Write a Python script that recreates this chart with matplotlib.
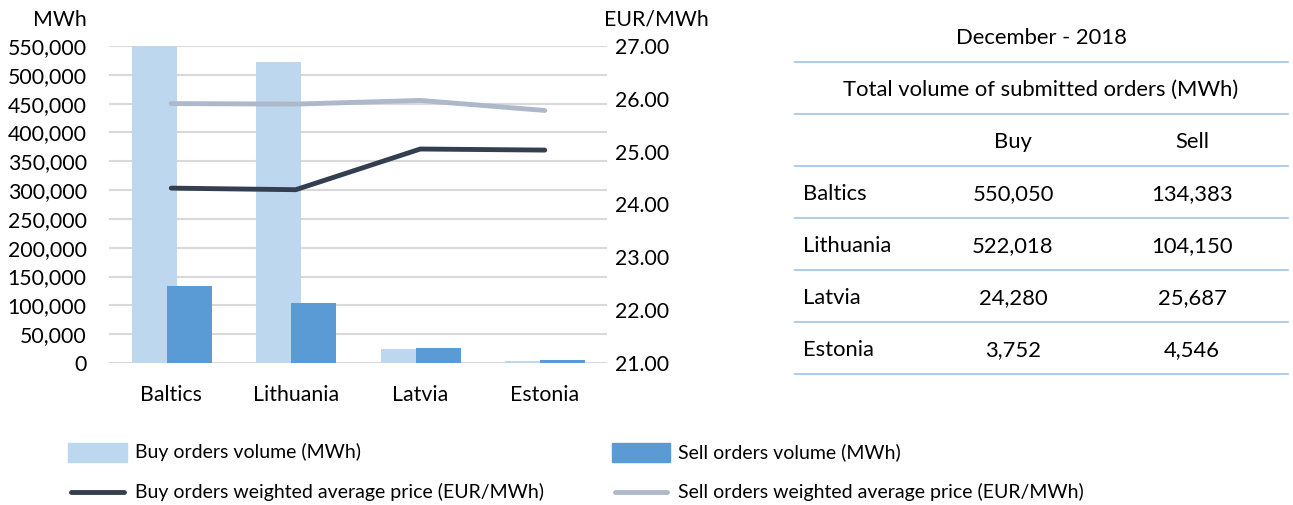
import matplotlib
matplotlib.use("Agg")
import matplotlib.pyplot as plt
from matplotlib.patches import Rectangle
from matplotlib.lines import Line2D
from matplotlib.ticker import FuncFormatter
import numpy as np

plt.rcParams['font.family'] = ['Lato', 'DejaVu Sans']

categories = ["Baltics", "Lithuania", "Latvia", "Estonia"]
buy_volume = [550050, 522018, 24280, 3752]
sell_volume = [134383, 104150, 25687, 4546]
buy_price = [24.31, 24.28, 25.05, 25.03]
sell_price = [25.91, 25.90, 25.97, 25.78]
table_title = "December - 2018"
table_subtitle = "Total volume of submitted orders (MWh)"
table_cols = ["Buy", "Sell"]

c_buy_bar = "#BDD7EE"
c_sell_bar = "#5B9BD5"
c_buy_line = "#333F50"
c_sell_line = "#ADB9CA"
c_grid = "#D9D9D9"
c_table = "#9DC3E6"
txt = "#000000"
fs = 15.3
fs_tab = 15.8
fs_leg = 14

W, H = 1293, 505
fig = plt.figure(figsize=(W / 100, H / 100), dpi=100)

def fx(px):
    return px / W

def fy(py):
    return 1 - py / H

ax = fig.add_axes([fx(109), fy(363), fx(607) - fx(109), fy(46) - fy(363)])
x = np.arange(len(categories))
bw = 0.36
ax.bar(x - 0.137, buy_volume, width=bw, color=c_buy_bar, zorder=2)
ax.bar(x + 0.145, sell_volume, width=bw, color=c_sell_bar, zorder=3)
ax.set_xlim(-0.5, len(categories) - 0.5)
ax.set_ylim(0, 550000)
ax.set_yticks(np.arange(0, 550001, 50000))
ax.yaxis.set_major_formatter(FuncFormatter(lambda v, p: f"{int(v):,}"))
ax.set_xticks(x)
ax.set_xticklabels(categories)
ax.grid(axis='y', color=c_grid, linewidth=1.5, zorder=0)
ax.set_axisbelow(True)
for s in ax.spines.values():
    s.set_visible(False)
ax.tick_params(axis='y', length=0, pad=16, labelsize=fs)
ax.tick_params(axis='x', length=0, pad=16, labelsize=fs)

ax2 = ax.twinx()
ax2.plot(x, sell_price, color=c_sell_line, linewidth=3.5, solid_capstyle='round', zorder=4)
ax2.plot(x, buy_price, color=c_buy_line, linewidth=3.5, solid_capstyle='round', zorder=5)
ax2.set_ylim(21, 27)
ax2.set_yticks(np.arange(21, 27.01, 1))
ax2.yaxis.set_major_formatter(FuncFormatter(lambda v, p: f"{v:.2f}"))
ax2.tick_params(axis='y', length=0, pad=6, labelsize=fs)
for s in ax2.spines.values():
    s.set_visible(False)

fig.text(fx(87), fy(20), "MWh", ha='right', va='center', fontsize=fs, color=txt)
fig.text(fx(604), fy(20), "EUR/MWh", ha='left', va='center', fontsize=fs, color=txt)

# Table
tl, tr = 795, 1288
for yy in [62, 114, 166, 218, 270, 322, 374]:
    fig.add_artist(Line2D([fx(tl), fx(tr)], [fy(yy), fy(yy)], color=c_table, linewidth=1.2))
fig.text(fx(1041), fy(38), table_title, ha='center', va='center', fontsize=fs_tab, color=txt)
fig.text(fx(1041), fy(90), table_subtitle, ha='center', va='center', fontsize=fs_tab, color=txt)
col_x = [1013, 1192]
for cx, name in zip(col_x, table_cols):
    fig.text(fx(cx), fy(142), name, ha='center', va='center', fontsize=fs_tab, color=txt)
for i, cat in enumerate(categories):
    ry = 194 + 52 * i
    fig.text(fx(803), fy(ry), cat, ha='left', va='center', fontsize=fs_tab, color=txt)
    fig.text(fx(col_x[0]), fy(ry), f"{buy_volume[i]:,}", ha='center', va='center', fontsize=fs_tab, color=txt)
    fig.text(fx(col_x[1]), fy(ry), f"{sell_volume[i]:,}", ha='center', va='center', fontsize=fs_tab, color=txt)

# Legend
fig.add_artist(Rectangle((fx(68), fy(462)), fx(127) - fx(68), fy(443) - fy(462), color=c_buy_bar))
fig.text(fx(135), fy(452), "Buy orders volume (MWh)", ha='left', va='center', fontsize=fs_leg, color=txt)
fig.add_artist(Rectangle((fx(612), fy(462)), fx(670) - fx(612), fy(443) - fy(462), color=c_sell_bar))
fig.text(fx(678), fy(452), "Sell orders volume (MWh)", ha='left', va='center', fontsize=fs_leg, color=txt)
fig.add_artist(Line2D([fx(71), fx(124)], [fy(492), fy(492)], color=c_buy_line, linewidth=3.5, solid_capstyle='round'))
fig.text(fx(135), fy(492), "Buy orders weighted average price (EUR/MWh)", ha='left', va='center', fontsize=fs_leg, color=txt)
fig.add_artist(Line2D([fx(615), fx(667)], [fy(492), fy(492)], color=c_sell_line, linewidth=3.5, solid_capstyle='round'))
fig.text(fx(678), fy(492), "Sell orders weighted average price (EUR/MWh)", ha='left', va='center', fontsize=fs_leg, color=txt)

fig.savefig("out.png", dpi=100)
